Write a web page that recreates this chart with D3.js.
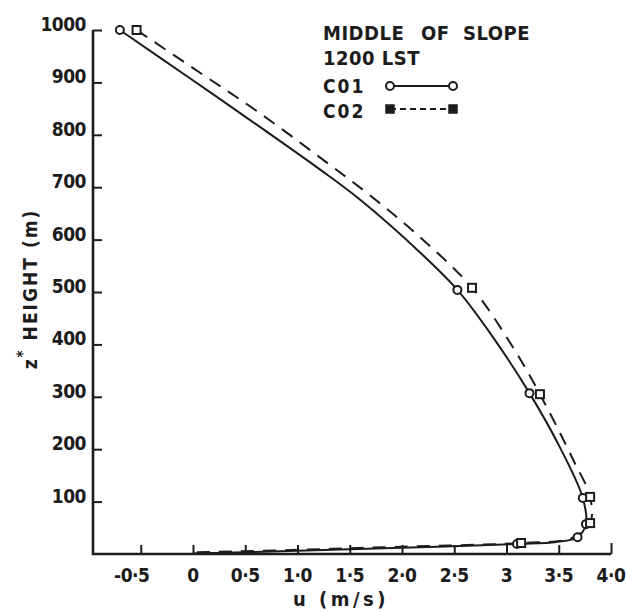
<!DOCTYPE html>
<html>
<head>
<meta charset="utf-8">
<script src="https://cdn.jsdelivr.net/npm/d3@7"></script>
<style>
    body { margin: 0; background: #fff; }
    text { font-family: "DejaVu Sans Condensed", "DejaVu Sans", sans-serif; font-weight: bold; fill: #1c1c1c; }
</style>
</head>
<body>
<script>
// tick values and labels
var uTicks = [-0.5, 0, 0.5, 1, 1.5, 2, 2.5, 3, 3.5, 4]
var uTickLabels = ["-0·5", "0", "0·5", "1·0", "1·5", "2·0", "2·5", "3", "3·5", "4·0"]
var zTicks = [100, 200, 300, 400, 500, 600, 700, 800, 900, 1000]

// C01 profile [u (m/s), z (m)]
var c01Profile = [[-0.70, 1000], [-0.03, 908], [0.64, 815], [1.22, 733], [1.60, 676], [2.17, 576],
    [2.53, 504], [2.87, 414], [3.22, 307], [3.51, 204], [3.73, 107], [3.76, 57], [3.68, 32],
    [3.48, 23], [3.10, 19], [2.0, 12], [1.0, 6], [0.0, 1]]
// C01 model levels with markers
var c01Levels = [[-0.70, 1000], [2.53, 504], [3.22, 307], [3.73, 107], [3.76, 57], [3.68, 32], [3.10, 19]]

// C02 profile
var c02Profile = [[-0.54, 1000], [0.07, 918], [0.62, 844], [1.22, 756], [1.69, 685], [2.17, 605],
    [2.67, 508], [3.06, 395], [3.32, 305], [3.64, 179], [3.80, 109], [3.80, 59], [3.62, 30],
    [3.14, 21], [2.0, 14], [1.0, 8], [0.0, 3]]
var c02Levels = [[-0.54, 1000], [2.67, 508], [3.32, 305], [3.80, 109], [3.80, 59], [3.14, 21]]

var width = 626,
    height = 612,
    ink = "#1c1c1c"

var svg = d3.select("body")
    .append("svg")
    .attr("width", width)
    .attr("height", height)

var x = d3.scaleLinear().domain([-0.957, 4.0]).range([93, 611])
var y = d3.scaleLinear().domain([0, 1000]).range([554, 30])

// axes, ticks pointing inward
var xAxis = d3.axisTop(x)
    .tickValues(uTicks)
    .tickSize(9)
    .tickFormat("")
var gx = svg.append("g")
    .attr("transform", "translate(0," + y(0) + ")")
    .call(xAxis)
gx.select(".domain").remove()
gx.selectAll(".tick line").attr("stroke", ink).attr("stroke-width", 2)
gx.selectAll(".tick").filter(function (d) { return d === 4 }).select("line").attr("y2", -11)

var yAxis = d3.axisRight(y)
    .tickValues(zTicks)
    .tickSize(9)
    .tickFormat("")
var gy = svg.append("g")
    .attr("transform", "translate(" + x.range()[0] + ",0)")
    .call(yAxis)
gy.select(".domain").remove()
gy.selectAll(".tick line").attr("stroke", ink).attr("stroke-width", 2)

svg.append("path")
    .attr("d", "M" + x.range()[0] + "," + y(1000) + "V" + y(0) + "H" + x.range()[1])
    .attr("fill", "none")
    .attr("stroke", ink)
    .attr("stroke-width", 2.6)

// tick labels
svg.selectAll("text.xl")
    .data(uTicks)
    .enter()
    .append("text")
    .attr("class", "xl")
    .attr("x", function (d, i) { return x(d) + (i === 0 ? -9 : 0) })
    .attr("y", 582)
    .attr("text-anchor", "middle")
    .attr("font-size", 19)
    .attr("letter-spacing", -0.5)
    .text(function (d, i) { return uTickLabels[i] })

svg.selectAll("text.yl")
    .data(zTicks)
    .enter()
    .append("text")
    .attr("class", "yl")
    .attr("x", 86)
    .attr("y", function (d) { return y(d) + 1 })
    .attr("text-anchor", "end")
    .attr("font-size", 19)
    .attr("letter-spacing", -0.5)
    .text(function (d) { return d })

// axis titles
svg.append("text")
    .attr("x", 341)
    .attr("y", 606)
    .attr("text-anchor", "middle")
    .attr("font-size", 20)
    .attr("letter-spacing", 3.5)
    .text("u (m/s)")

var yTitle = svg.append("text")
    .attr("transform", "translate(37,289) rotate(-90)")
    .attr("text-anchor", "middle")
    .attr("font-size", 19)
    .attr("letter-spacing", 2)
yTitle.append("tspan").text("z")
yTitle.append("tspan").attr("dy", -9).attr("font-size", 15).text("*")
yTitle.append("tspan").attr("dy", 9).text(" HEIGHT (m)")

// profiles
var line = d3.line()
    .x(function (d) { return x(d[0]) })
    .y(function (d) { return y(d[1]) })
    .curve(d3.curveCatmullRom.alpha(0.5))

svg.append("path")
    .datum(c01Profile)
    .attr("d", line)
    .attr("fill", "none")
    .attr("stroke", ink)
    .attr("stroke-width", 2)

svg.append("path")
    .datum(c02Profile)
    .attr("d", line)
    .attr("fill", "none")
    .attr("stroke", ink)
    .attr("stroke-width", 2)
    .attr("stroke-dasharray", "13,9")

svg.selectAll("circle.c01")
    .data(c01Levels)
    .enter()
    .append("circle")
    .attr("class", "c01")
    .attr("cx", function (d) { return x(d[0]) })
    .attr("cy", function (d) { return y(d[1]) })
    .attr("r", 4)
    .attr("fill", "#fff")
    .attr("stroke", ink)
    .attr("stroke-width", 2)

svg.selectAll("rect.c02")
    .data(c02Levels)
    .enter()
    .append("rect")
    .attr("class", "c02")
    .attr("x", function (d) { return x(d[0]) - 4 })
    .attr("y", function (d) { return y(d[1]) - 4 })
    .attr("width", 8)
    .attr("height", 8)
    .attr("fill", "#fff")
    .attr("stroke", ink)
    .attr("stroke-width", 2)

// legend
var legend = svg.append("g")
var title = legend.append("text").attr("y", 40).attr("font-size", 20).attr("letter-spacing", 0.5)
title.append("tspan").attr("x", 323).text("MIDDLE")
title.append("tspan").attr("x", 421).text("OF")
title.append("tspan").attr("x", 463).text("SLOPE")
legend.append("text").attr("x", 323).attr("y", 65).attr("font-size", 20).attr("letter-spacing", 0.5).text("1200 LST")
legend.append("text").attr("x", 323).attr("y", 93).attr("font-size", 19).attr("letter-spacing", 2).text("C01")
legend.append("text").attr("x", 323).attr("y", 118).attr("font-size", 19).attr("letter-spacing", 2).text("C02")

legend.append("line").attr("x1", 390).attr("x2", 453).attr("y1", 86).attr("y2", 86)
    .attr("stroke", ink).attr("stroke-width", 2)
legend.selectAll("circle").data([390, 453]).enter().append("circle")
    .attr("cx", function (d) { return d }).attr("cy", 86).attr("r", 4)
    .attr("fill", "#fff").attr("stroke", ink).attr("stroke-width", 2)

legend.append("line").attr("x1", 390).attr("x2", 453).attr("y1", 109).attr("y2", 109)
    .attr("stroke", ink).attr("stroke-width", 2).attr("stroke-dasharray", "6,4")
legend.selectAll("rect").data([390, 453]).enter().append("rect")
    .attr("x", function (d) { return d - 4 }).attr("y", 105).attr("width", 8).attr("height", 8)
    .attr("fill", ink).attr("stroke", ink).attr("stroke-width", 1.5)
</script>
</body>
</html>
